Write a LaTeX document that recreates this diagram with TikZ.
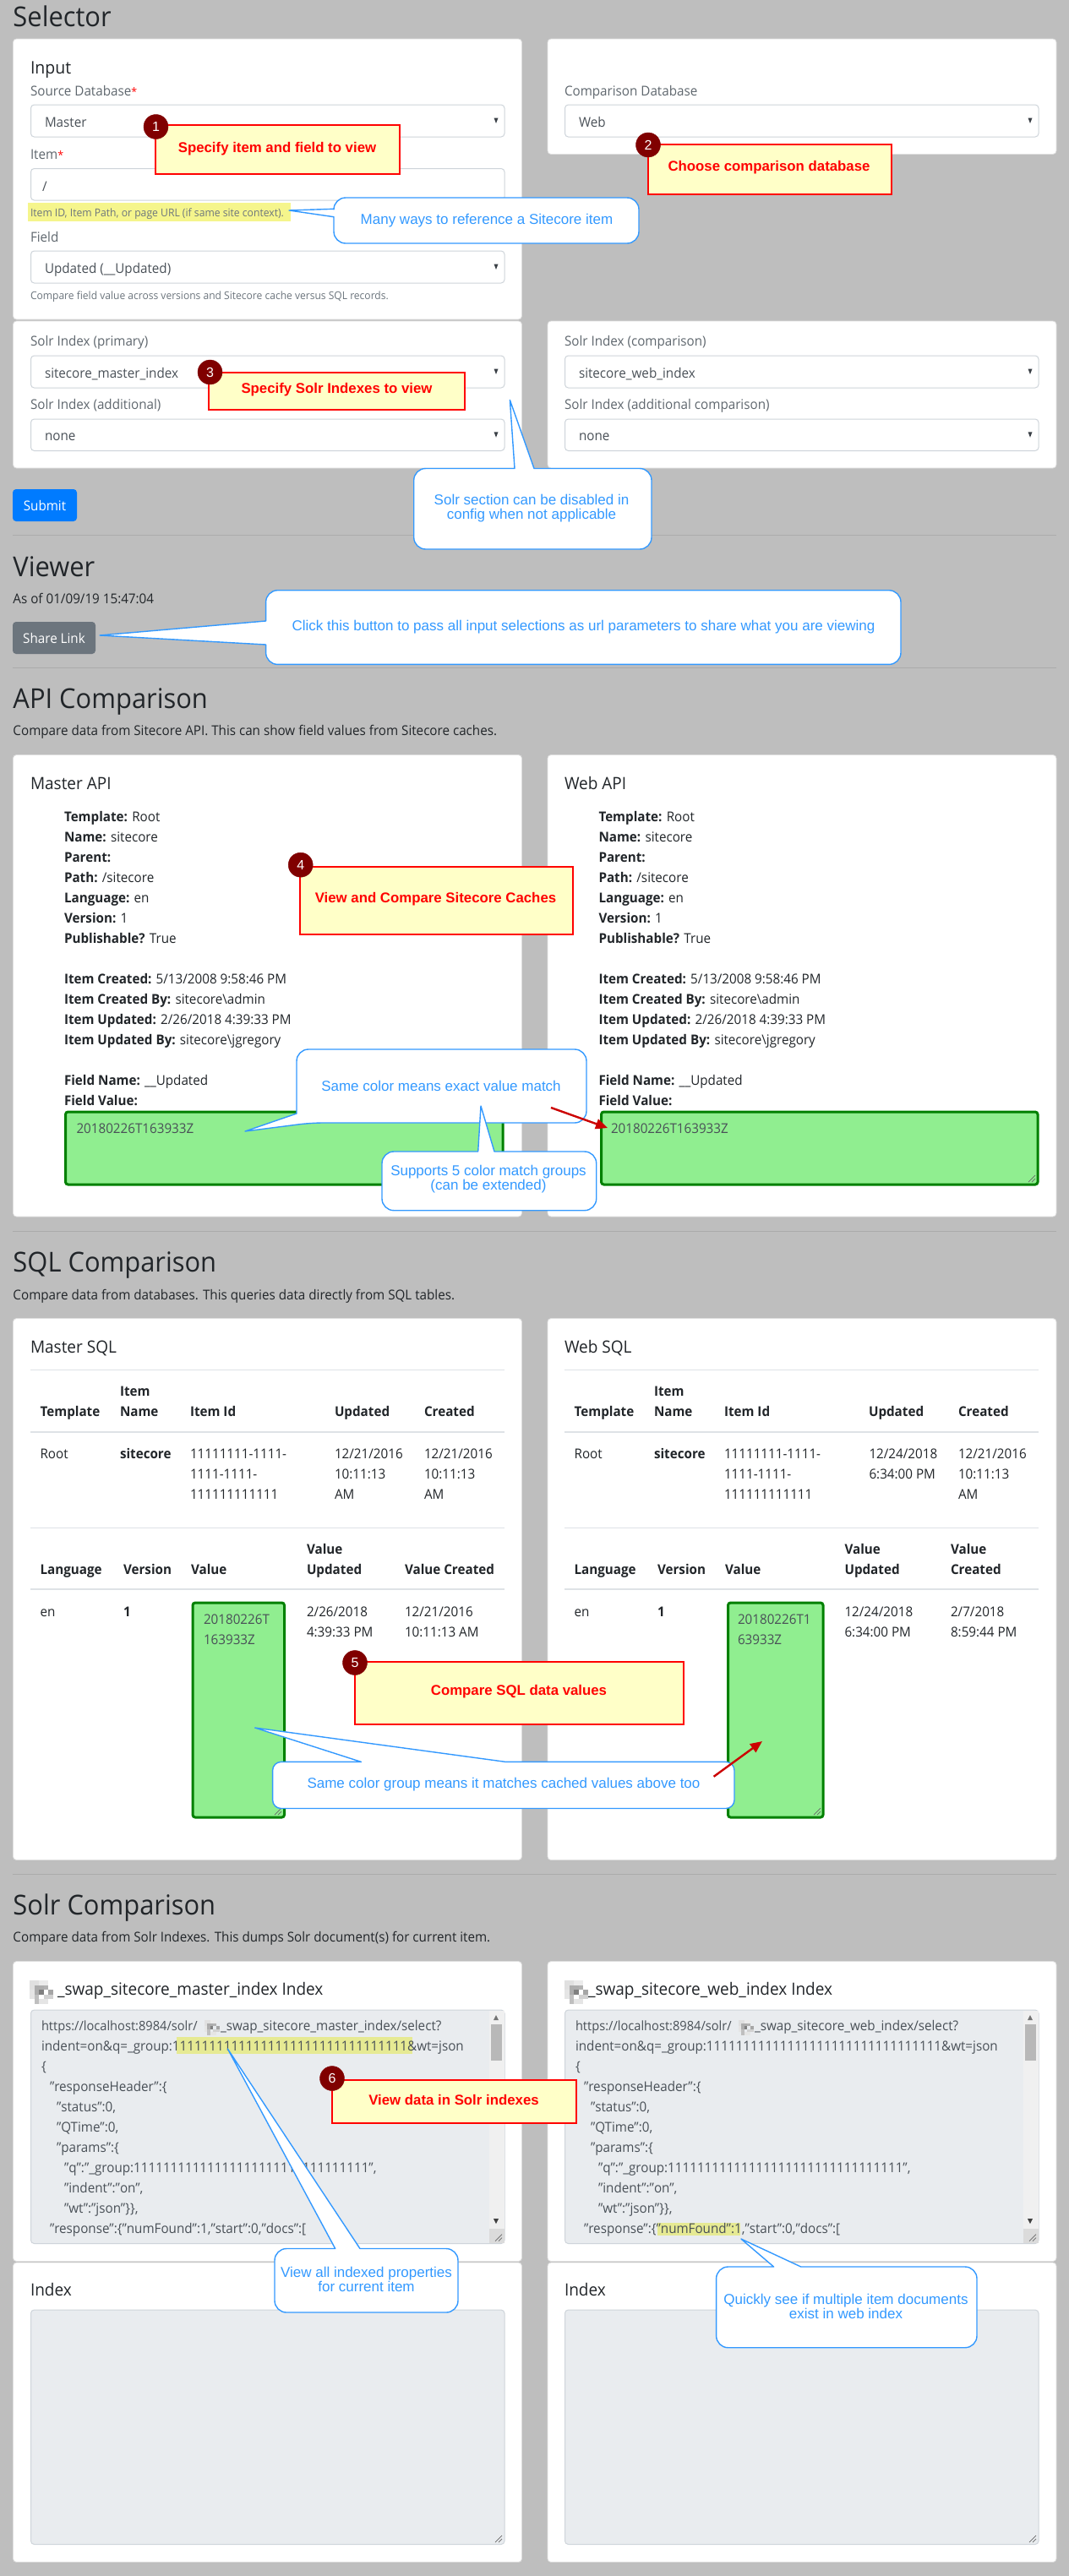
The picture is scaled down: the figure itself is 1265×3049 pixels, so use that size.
\documentclass[tikz,border=0pt]{standalone}
\usepackage{fontspec}
\usetikzlibrary{arrows.meta}
\setmainfont{Open Sans}[FakeStretch=0.95]
\newfontfamily\arialf{Liberation Sans}
\newfontfamily\widef{Open Sans}
\definecolor{pagebg}{HTML}{BEBEBE}
\definecolor{inkc}{HTML}{212529}
\definecolor{inkg}{HTML}{495057}
\definecolor{labelg}{HTML}{5F676E}
\definecolor{mutedg}{HTML}{6C757D}
\definecolor{linec}{HTML}{CED4DA}
\definecolor{cardl}{HTML}{DEDEDE}
\definecolor{tbl}{HTML}{DEE2E6}
\definecolor{hrc}{HTML}{ABABAB}
\definecolor{greenf}{HTML}{90EE90}
\definecolor{greenl}{HTML}{008000}
\definecolor{taf}{HTML}{E9ECEF}
\definecolor{yelhi}{HTML}{F5F58C}
\definecolor{yelhib}{HTML}{E6EA93}
\definecolor{notef}{HTML}{FFFFC8}
\definecolor{badge}{HTML}{800000}
\definecolor{blueco}{HTML}{3399FF}
\definecolor{arrowr}{HTML}{CC0000}
\definecolor{btnblue}{HTML}{007BFF}
\newcounter{tn}
\newcommand{\setfs}[1]{\fontsize{#1}{#1}\selectfont}
\tikzset{
 txtbase/.style={anchor=base west,inner sep=0pt,outer sep=0pt,text=inkc,font=\setfs{16}},
 card/.style={fill=white,draw=cardl,line width=0.8,rounded corners=4},
 inputbox/.style={fill=white,draw=linec,line width=1,rounded corners=4},
 tabox/.style={fill=taf,draw=linec,line width=1,rounded corners=4},
 greenbox/.style={fill=greenf,draw=greenl,line width=3,rounded corners=3},
 hrule/.style={draw=hrc,line width=1},
 tline/.style={draw=tbl,line width=1},
 tlinet/.style={draw=tbl,line width=2},
 notebox/.style={fill=notef,draw=red,line width=2},
 notetext/.style={inner sep=0pt,text=red,font=\arialf\bfseries\setfs{16.8}},
 badgec/.style={circle,fill=badge,draw=badge,line width=0.4,minimum size=29,inner sep=0pt,text=white,font=\arialf\setfs{16}},
 co/.style={fill=white,draw=blueco,line width=1.4,line join=round},
 cotext/.style={inner sep=0pt,text=blueco,align=center,font=\arialf\setfs{17}},
 redarrow/.style={draw=arrowr,line width=2.4,-{Triangle[length=14,width=12]}},
 btn/.style={rounded corners=4},
 btntext/.style={inner sep=0pt,text=white,font=\setfs{16}},
}
\newcommand{\txt}[4][]{\stepcounter{tn}\node[txtbase,#1] (t\arabic{tn}) at ({#2},{#3}) {#4};}
\newcommand{\lbl}[3]{\txt[text=labelg]{#1}{#2}{#3}}
\newcommand{\bodyt}[3]{\txt[text=inkg]{#1}{#2}{#3}}
\newcommand{\selbox}[5]{\draw[inputbox] (#1,#2) rectangle (#3,#4);
 \fill[inkg!80!black] ({#3-12.5},{(#2+#4)/2-3.5}) -- ({#3-7.5},{(#2+#4)/2-3.5}) -- ({#3-10},{(#2+#4)/2+3}) -- cycle;
 \bodyt{#1+16.5}{(#2+#4)/2+7}{#5}}
\newcommand{\handle}[2]{\draw[line width=0.7,draw=black!60] ({#1-10},{#2-2}) -- ({#1-2},{#2-10}) ({#1-6},{#2-2}) -- ({#1-2},{#2-6});}
\newcommand{\blurmark}[3]{\begin{scope}[shift={(#1,#2)},x=#3pt,y=-#3pt]
 \fill[black!12] (0,0) rectangle (2,2); \fill[black!8] (2,0) rectangle (4,1);
 \fill[black!32] (1,1) rectangle (3,3); \fill[black!50] (2,2) rectangle (3,3);
 \fill[black!18] (3,3) rectangle (5,4); \fill[black!35] (4,2) rectangle (5,3);
 \fill[black!25] (1,3) rectangle (2,5); \fill[black!10] (2,4) rectangle (4,5);
 \fill[black!10] (0,2) rectangle (1,4); \fill[black!30] (3,1) rectangle (4,2);
 \end{scope}}
\begin{document}
\begin{tikzpicture}[x=1pt,y=-1pt]
\useasboundingbox (0,0) rectangle (1265,3049);
\fill[pagebg] (0,0) rectangle (1265,3049);
%% ---- Selector
\txt[font=\setfs{32.5}]{15.5}{31.5}{Selector}
\draw[card] (15.5,46) rectangle (617.5,378);
\draw[card] (648,46) rectangle (1250,182.5);
\draw[card] (15.5,380) rectangle (617.5,554);
\draw[card] (648,380) rectangle (1250,554);
\txt[font=\setfs{20.5}]{36}{87}{Input}
\lbl{36}{113}{Source Database\textcolor{red}{\setfs{13}*}}
\selbox{36.5}{124}{597}{162}{Master}
\lbl{36}{188}{Item\textcolor{red}{\setfs{13}*}}
\draw[inputbox] (36.5,199.5) rectangle (597,237);
\bodyt{50}{226}{/}
\fill[yelhi] (33,240) rectangle (344,262);
\txt[font=\setfs{12.8},text=mutedg]{36}{256.5}{Item ID, Item Path, or page URL (if same site context).}
\lbl{36}{286}{Field}
\selbox{36.5}{297}{597}{335}{Updated (\_\_Updated)}
\txt[font=\setfs{12.7},text=mutedg]{36}{354}{Compare field value across versions and Sitecore cache versus SQL records.}
\lbl{668}{113}{Comparison Database}
\selbox{668.5}{124}{1229}{162}{Web}
\lbl{36}{409}{Solr Index (primary)}
\selbox{36.5}{421}{597}{459}{sitecore\_master\_index}
\lbl{36}{484.5}{Solr Index (additional)}
\selbox{36.5}{496}{597}{533.5}{none}
\lbl{668}{409}{Solr Index (comparison)}
\selbox{668.5}{421}{1229}{459}{sitecore\_web\_index}
\lbl{668}{484.5}{Solr Index (additional comparison)}
\selbox{668.5}{496}{1229}{533.5}{none}
\fill[btnblue,btn] (15,579) rectangle (91,617);
\node[btntext] (submit) at (53,598) {Submit};
\draw[hrule] (15,633.5) -- (1250,633.5);
%% ---- Viewer
\txt[font=\setfs{32.5}]{15.5}{682}{Viewer}
\txt{15.5}{714}{As of 01/09/19 15:47:04}
\fill[mutedg,btn] (15,736) rectangle (113,774);
\node[btntext] (share) at (64,755) {Share Link};
\draw[hrule] (15,790.5) -- (1250,790.5);
%% ---- API
\txt[font=\setfs{32.5}]{15.5}{838}{API Comparison}
\txt{15.5}{870.5}{Compare data from Sitecore API. This can show field values from Sitecore caches.}
\draw[card] (15.5,893.5) rectangle (617.5,1440);
\draw[card] (648,893.5) rectangle (1250,1440);
\txt[font=\setfs{20}]{36}{934}{Master API}
\txt[font=\setfs{20}]{668}{934}{Web API}
\foreach \ox in {76,708.5}{
 \txt{\ox}{972}{\textbf{Template:} Root}
 \txt{\ox}{996}{\textbf{Name:} sitecore}
 \txt{\ox}{1020}{\textbf{Parent:}}
 \txt{\ox}{1044}{\textbf{Path:} /sitecore}
 \txt{\ox}{1068}{\textbf{Language:} en}
 \txt{\ox}{1092}{\textbf{Version:} 1}
 \txt{\ox}{1116}{\textbf{Publishable?} True}
 \txt{\ox}{1164}{\textbf{Item Created:} 5/13/2008 9:58:46 PM}
 \txt{\ox}{1188}{\textbf{Item Created By:} sitecore\textbackslash admin}
 \txt{\ox}{1212}{\textbf{Item Updated:} 2/26/2018 4:39:33 PM}
 \txt{\ox}{1236}{\textbf{Item Updated By:} sitecore\textbackslash jgregory}
 \txt{\ox}{1284}{\textbf{Field Name:} \_\_Updated}
 \txt{\ox}{1308}{\textbf{Field Value:}}
}
\draw[greenbox] (77.5,1316) rectangle (595,1402);
\bodyt{90.5}{1341.5}{20180226T163933Z}
\draw[greenbox] (711.5,1316) rectangle (1228,1402);
\bodyt{723}{1341.5}{20180226T163933Z}
\handle{1227}{1401}
\draw[hrule] (15,1457) -- (1250,1457);
%% ---- SQL
\txt[font=\setfs{32.5}]{15.5}{1505}{SQL Comparison}
\txt{15.5}{1538}{Compare data from databases. This queries data directly from SQL tables.}
\draw[card] (15.5,1560.5) rectangle (617.5,2201.5);
\draw[card] (648,1560.5) rectangle (1250,2201.5);
\txt[font=\setfs{20}]{36}{1601}{Master SQL}
\txt[font=\setfs{20}]{668}{1601}{Web SQL}
\foreach \ox in {0,632}{
 \draw[tline] ({36+\ox},1621.5) -- ({597+\ox},1621.5);
 \draw[tlinet] ({36+\ox},1694.5) -- ({597+\ox},1694.5);
 \draw[tline] ({36+\ox},1808.5) -- ({597+\ox},1808.5);
 \draw[tlinet] ({36+\ox},1881) -- ({597+\ox},1881);
 \txt{47.6+\ox}{1676}{\textbf{Template}}
 \txt{142+\ox}{1652}{\textbf{Item}}
 \txt{142+\ox}{1676}{\textbf{Name}}
 \txt{225+\ox}{1676}{\textbf{Item Id}}
 \txt{396+\ox}{1676}{\textbf{Updated}}
 \txt{502+\ox}{1676}{\textbf{Created}}
 \txt{47.6+\ox}{1726}{Root}
 \txt{142+\ox}{1726}{\textbf{sitecore}}
 \txt{225+\ox}{1726}{11111111-1111-}
 \txt{225+\ox}{1750}{1111-1111-}
 \txt{225+\ox}{1774}{111111111111}
 \txt{502+\ox}{1726}{12/21/2016}
 \txt{502+\ox}{1750}{10:11:13}
 \txt{502+\ox}{1774}{AM}
 \txt{47.6+\ox}{1863}{\textbf{Language}}
 \txt{146+\ox}{1863}{\textbf{Version}}
 \txt{226+\ox}{1863}{\textbf{Value}}
 \txt{47.6+\ox}{1913}{en}
 \txt{146+\ox}{1913}{\textbf{1}}
}
\txt{396}{1726}{12/21/2016}
\txt{396}{1750}{10:11:13}
\txt{396}{1774}{AM}
\txt{1028.5}{1726}{12/24/2018}
\txt{1028.5}{1750}{6:34:00 PM}
\txt{363}{1839}{\textbf{Value}}
\txt{363}{1863}{\textbf{Updated}}
\txt{479}{1863}{\textbf{Value Created}}
\txt{363}{1913}{2/26/2018}
\txt{363}{1937}{4:39:33 PM}
\txt{479}{1913}{12/21/2016}
\txt{479}{1937}{10:11:13 AM}
\txt{999.5}{1839}{\textbf{Value}}
\txt{999.5}{1863}{\textbf{Updated}}
\txt{1125}{1839}{\textbf{Value}}
\txt{1125}{1863}{\textbf{Created}}
\txt{999.5}{1913}{12/24/2018}
\txt{999.5}{1937}{6:34:00 PM}
\txt{1125}{1913}{2/7/2018}
\txt{1125}{1937}{8:59:44 PM}
\draw[greenbox] (228,1897) rectangle (336.5,2151);
\bodyt{241}{1922}{20180226T}
\bodyt{241}{1946}{163933Z}
\handle{335}{2150}
\draw[greenbox] (861.5,1897) rectangle (974,2151);
\bodyt{873}{1922}{20180226T1}
\bodyt{873}{1946}{63933Z}
\handle{973}{2150}
\draw[hrule] (15,2218.5) -- (1250,2218.5);
%% ---- Solr
\txt[font=\setfs{32.5}]{15.5}{2266}{Solr Comparison}
\txt{15.5}{2298}{Compare data from Solr Indexes. This dumps Solr document(s) for current item.}
\draw[card] (15.5,2321.5) rectangle (617.5,2676.5);
\draw[card] (648,2321.5) rectangle (1250,2676.5);
\draw[card] (15.5,2678) rectangle (617.5,3032.5);
\draw[card] (648,2678) rectangle (1250,3032.5);
\blurmark{35}{2344}{5.5}
\txt[font=\setfs{20}]{68}{2361.5}{\_swap\_sitecore\_master\_index Index}
\blurmark{668}{2344}{5.5}
\txt[font=\setfs{20}]{696}{2361.5}{\_swap\_sitecore\_web\_index Index}
\foreach \ox in {0,632}{
 \draw[tabox] ({36.5+\ox},2379) rectangle ({597+\ox},2655.5);
 \fill[black!6] ({579+\ox},2380) rectangle ({596.5+\ox},2655);
 \fill[black!28] ({581+\ox},2396) rectangle ({594+\ox},2439);
 \fill[black!55] ({584+\ox},2391) -- ({590+\ox},2391) -- ({587+\ox},2385) -- cycle;
 \fill[black!75] ({584+\ox},2626) -- ({590+\ox},2626) -- ({587+\ox},2632) -- cycle;
 \fill[black!14] ({579+\ox},2638) rectangle ({596.5+\ox},2655);
 \handle{596+\ox}{2654.5}
}
\fill[yelhib] (209,2411) rectangle (488,2431);
\fill[yelhib] (777.5,2630.5) rectangle (876,2646);
\blurmark{241.5}{2391}{3.6}
\blurmark{873.5}{2391}{3.6}
\foreach \ox/\nm/\bx in {49/master/261,681/web/893}{
 \bodyt{\ox}{2403}{\setfs{15.4}https://localhost:8984/solr/}
 \bodyt{\bx}{2403}{\_swap\_sitecore\_\nm\_index/select?}
 \bodyt{\ox}{2427}{indent=on\&q=\_group:11111111111111111111111111111111\&wt=json}
 \bodyt{\ox}{2451}{\{}
 \bodyt{\ox+10}{2475}{"responseHeader":\{}
 \bodyt{\ox+18}{2499}{"status":0,}
 \bodyt{\ox+18}{2523}{"QTime":0,}
 \bodyt{\ox+18}{2547}{"params":\{}
 \bodyt{\ox+27}{2571}{"q":"\_group:11111111111111111111111111111111",}
 \bodyt{\ox+27}{2595}{"indent":"on",}
 \bodyt{\ox+27}{2619}{"wt":"json"\}\},}
 \bodyt{\ox+10}{2643}{"response":\{"numFound":1,"start":0,"docs":[}
}
\txt[font=\setfs{20}]{36}{2717}{Index}
\txt[font=\setfs{20}]{668}{2717}{Index}
\draw[tabox] (36.5,2734) rectangle (597,3011.5);
\draw[tabox] (668.5,2734) rectangle (1229,3011.5);
\handle{596}{3011}
\handle{1228}{3011}
%% ---- Red notes
\draw[notebox] (183.5,147.5) rectangle (472.5,206);
\node[notetext] (n1) at (328,176) {Specify item and field to view};
\node[badgec] (b1) at (184.5,150) {1};
\draw[notebox] (766.5,170.5) rectangle (1055,229.5);
\node[notetext] (n2) at (910,198.5) {Choose comparison database};
\node[badgec] (b2) at (767,171.5) {2};
\draw[notebox] (247,440.5) rectangle (550,485);
\node[notetext] (n3) at (398.5,461) {Specify Solr Indexes to view};
\node[badgec] (b3) at (248.5,440.5) {3};
\draw[notebox] (355,1025.5) rectangle (677.5,1106);
\node[notetext] (n4) at (515.5,1064.5) {View and Compare Sitecore Caches};
\node[badgec] (b4) at (355.7,1023.7) {4};
\draw[notebox] (419.5,1966.5) rectangle (809,2040.5);
\node[notetext] (n5) at (614,2002) {Compare SQL data values};
\node[badgec] (b5) at (420,1968) {5};
\draw[notebox] (393,2461.5) rectangle (682,2512.5);
\node[notetext] (n6) at (537,2485.5) {View data in Solr indexes};
\node[badgec] (b6) at (393,2460) {6};
%% ---- Blue callouts
\draw[co,rounded corners=14] (395,234) -- (756,234) -- (756,288) -- (395,288) [sharp corners] -- (395,256.7) -- (342,249) -- (395,247.3) [rounded corners=14] -- cycle;
\node[cotext] (c1) at (576,261) {Many ways to reference a Sitecore item};
\draw[co,rounded corners=14] (489.7,554.5) [sharp corners] -- (609,554.5) -- (603.4,473.5) -- (632,554.5) [rounded corners=14] -- (771,554.5) -- (771,650) -- (489.7,650) -- cycle;
\node[cotext] (c2) at (629,601.5) {Solr section can be disabled in\\config when not applicable};
\draw[co,rounded corners=14] (314.6,698.7) -- (1066,698.7) -- (1066,786.4) -- (314.6,786.4) [sharp corners] -- (314.6,763) -- (118,752) -- (314.6,735) [rounded corners=14] -- cycle;
\node[cotext] (c3) at (690.5,742.5) {Click this button to pass all input selections as url parameters to share what you are viewing};
\draw[co,rounded corners=14] (351,1242) -- (694,1242) -- (694,1329) -- (368,1329) [sharp corners] -- (290,1339) -- (351,1318) [rounded corners=14] -- cycle;
\node[cotext] (c4) at (522,1285) {Same color means exact value match};
\draw[co,rounded corners=14] (452,1363) [sharp corners] -- (565.7,1363) -- (569,1309) -- (585,1363) [rounded corners=14] -- (705.7,1363) -- (705.7,1432.7) -- (452,1432.7) -- cycle;
\node[cotext] (c5) at (578,1396) {Supports 5 color match groups\\(can be extended)};
\coordinate (a1s) at (652,1311);
\coordinate (a1e) at (719,1335);
\draw[redarrow] (a1s) -- (a1e);
\draw[co,rounded corners=10] (322.6,2085.4) [sharp corners] -- (427.5,2085.4) -- (301.7,2045) -- (598.6,2085.4) [rounded corners=10] -- (869,2085.4) -- (869,2140.5) -- (322.6,2140.5) -- cycle;
\node[cotext] (c6) at (596,2112.5) {Same color group means it matches cached values above too};
\coordinate (a2s) at (844.6,2102.8);
\coordinate (a2e) at (902,2061);
\draw[redarrow] (a2s) -- (a2e);
\draw[co,rounded corners=14] (325,2661.5) [sharp corners] -- (396.7,2661.5) -- (269.4,2425) -- (426,2661.5) [rounded corners=14] -- (542,2661.5) -- (542,2737) -- (325,2737) -- cycle;
\node[cotext] (c7) at (433.5,2697.5) {View all indexed properties\\for current item};
\draw[co,rounded corners=14] (847.6,2683) [sharp corners] -- (915.6,2683) -- (877,2650) -- (947.8,2683) [rounded corners=14] -- (1156,2683) -- (1156,2778.7) -- (847.6,2778.7) -- cycle;
\node[cotext] (c8) at (1001,2729.5) {Quickly see if multiple item documents\\exist in web index};
\end{tikzpicture}
\end{document}
